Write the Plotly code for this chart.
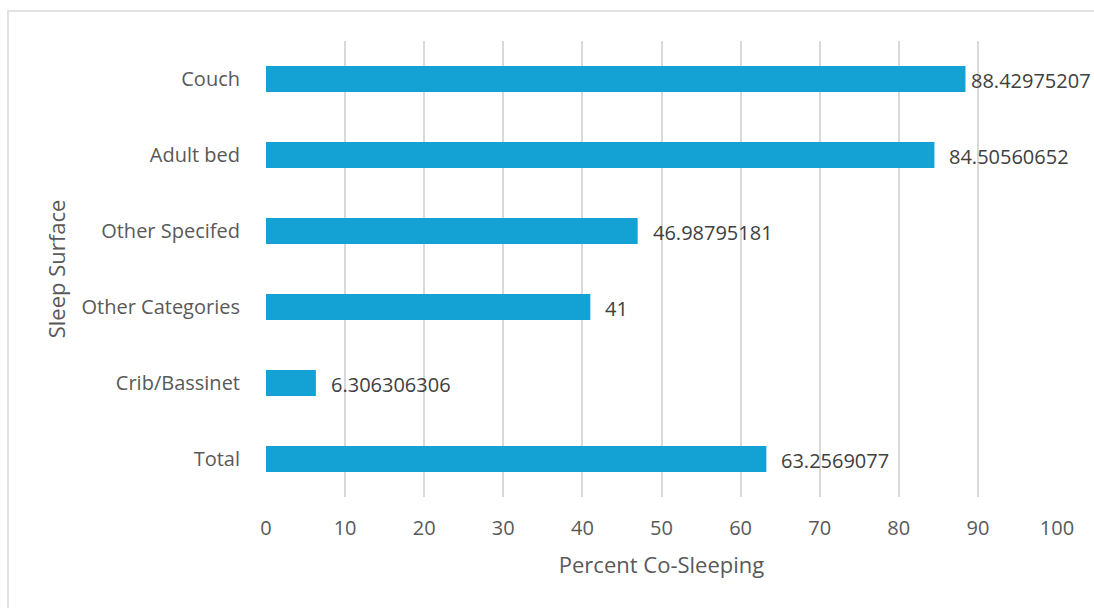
import plotly.graph_objects as go

categories = ["Total", "Crib/Bassinet", "Other Categories", "Other Specifed", "Adult bed", "Couch"]
values = [63.2569077, 6.306306306, 41, 46.98795181, 84.50560652, 88.42975207]
labels = ["63.2569077", "6.306306306", "41", "46.98795181", "84.50560652", "88.42975207"]
x_ticks = [0, 10, 20, 30, 40, 50, 60, 70, 80, 90, 100]

W, H = 1094, 608
L, R, T, B = 266, 37, 41, 111
plot_w = W - L - R
txt = "#595959"
font = "Open Sans, Lato, sans-serif"

fig = go.Figure()
fig.add_trace(go.Bar(
    y=categories, x=values, orientation="h",
    marker=dict(color="#13A2D3", line=dict(width=0)),
    width=0.34, hoverinfo="skip",
))

annotations = []
for c, v, t in zip(categories, values, labels):
    bar_end = v / 100 * plot_w
    est_w = len(t) * 11.4
    shift = 13
    if L + bar_end + shift + est_w > W:
        shift = max(2, W - (L + bar_end) - est_w)
    annotations.append(dict(
        x=v, y=c, xref="x", yref="y", text=t, showarrow=False,
        xanchor="left", yanchor="middle", xshift=shift, yshift=-1,
        font=dict(family=font, size=20, color="#404040"),
    ))

fig.update_layout(
    width=W, height=H,
    margin=dict(l=L, r=R, t=T, b=B, pad=0),
    paper_bgcolor="white", plot_bgcolor="white",
    showlegend=False,
    font=dict(family=font, color=txt),
    annotations=annotations,
    shapes=[dict(
        type="rect", xref="paper", yref="paper",
        x0=(8 - L) / plot_w, x1=(W + 20 - L) / plot_w,
        y0=-(H + 20 - (H - B)) / (H - T - B), y1=1 + (T - 11) / (H - T - B),
        line=dict(color="#D9D9D9", width=1.5), layer="below",
    )],
    xaxis=dict(
        range=[0, 100], tickvals=x_ticks, ticktext=[str(v) for v in x_ticks],
        showgrid=True, gridcolor="#D9D9D9", gridwidth=1.5,
        zeroline=False, showline=False,
        ticks="outside", ticklen=13, tickcolor="rgba(0,0,0,0)",
        tickfont=dict(family=font, size=20, color=txt),
        title=dict(text="Percent Co-Sleeping", standoff=17,
                   font=dict(family=font, size=22, color=txt)),
    ),
    yaxis=dict(
        categoryorder="array", categoryarray=categories,
        showgrid=False, zeroline=False, showline=False,
        ticks="outside", ticklen=21, tickcolor="rgba(0,0,0,0)",
        tickfont=dict(family=font, size=20, color=txt),
        title=dict(text="Sleep Surface", standoff=9,
                   font=dict(family=font, size=22, color=txt)),
    ),
)

fig.write_html("out.html")
